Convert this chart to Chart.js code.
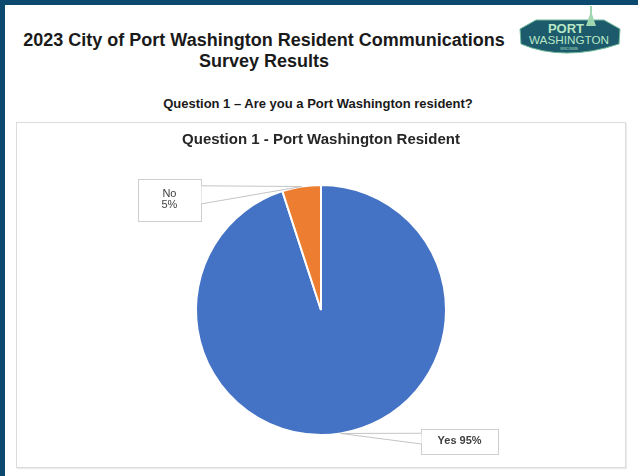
<!DOCTYPE html>
<html>
<head>
<meta charset="utf-8">
<script src="https://cdn.jsdelivr.net/npm/chart.js@4"></script>
<style>
  html, body { margin: 0; padding: 0; }
  body { width: 638px; height: 476px; position: relative; overflow: hidden; background: #fff; font-family: Arial, "Liberation Sans", sans-serif; }
  .edge-top { position: absolute; left: 0; top: 0; width: 638px; height: 5px; background: #0b4a6e; }
  .edge-left { position: absolute; left: 0; top: 0; width: 5px; height: 476px; background: #0b4a6e; }
  .title { position: absolute; left: 14px; top: 30px; width: 500px; text-align: center; font-weight: bold; font-size: 18px; line-height: 21px; color: #1a1a1a; }
  .subtitle { position: absolute; left: 0; top: 96px; width: 636px; text-align: center; font-weight: bold; font-size: 13px; color: #1a1a1a; }
  .box { position: absolute; left: 16px; top: 122px; width: 608px; height: 344px; border: 1px solid #dcdcdc; box-shadow: 1px 1px 1px #ececec; }
  #chart { display: block; }
  .logo { position: absolute; left: 516px; top: 4px; }
</style>
</head>
<body>
<div class="edge-top"></div>
<div class="edge-left"></div>

<div class="title">2023 City of Port Washington Resident Communications<br>Survey Results</div>

<svg class="logo" width="110" height="54" viewBox="0 0 110 54">
  <path d="M20 16 L88 16 L104 25 L103 40 Q76 49 51 49 Q26 49 5 40 L4 25 Z" fill="#1d5a6c" stroke="#6fb89a" stroke-width="1"/>
  <path d="M74 2 L76 2 L76 10 L80 22 L70 22 L74 10 Z" fill="#9fd8b0"/>
  <text x="50" y="29" text-anchor="middle" font-family="Arial" font-weight="bold" font-size="13" fill="#b8e8c4">PORT</text>
  <text x="53" y="40" text-anchor="middle" font-family="Arial" font-size="11" fill="#b8e8c4" textLength="80" lengthAdjust="spacingAndGlyphs">WASHINGTON</text>
  <text x="53" y="46" text-anchor="middle" font-family="Arial" font-size="3" fill="#b8e8c4">WISCONSIN</text>
</svg>

<div class="subtitle">Question 1 – Are you a Port Washington resident?</div>

<div class="box"><canvas id="chart" width="608" height="344"></canvas></div>

<script>
// survey answers
var categories = ['Yes', 'No']
var percentages = [95, 5]
var sliceColors = ['#4472C4', '#ED7D31']

// callout text per slice and where the box sits relative to the slice edge
var calloutLines = [['Yes 95%'], ['No', '5%']]
var calloutBold = [true, false]
var calloutSize = [[77, 25], [63, 42]]
var calloutShift = [[119, 8], [-132, 13]]

const calloutPlugin = {
  id: 'callouts',
  afterDatasetsDraw(chart) {
    const ctx = chart.ctx
    const arcs = chart.getDatasetMeta(0).data
    arcs.forEach((arc, i) => {
      const mid = (arc.startAngle + arc.endAngle) / 2
      const ax = arc.x + Math.cos(mid) * arc.outerRadius
      const ay = arc.y + Math.sin(mid) * arc.outerRadius
      const w = calloutSize[i][0], h = calloutSize[i][1]
      const cx = ax + calloutShift[i][0], cy = ay + calloutShift[i][1]
      const left = Math.round(cx - w / 2) + 0.5, top = Math.round(cy - h / 2) + 0.5
      // edge of box facing the slice
      const ex = cx > ax ? left : left + w
      const y1 = top + h * 0.15, y2 = top + h * 0.58

      ctx.save()
      ctx.fillStyle = '#ffffff'
      ctx.strokeStyle = '#cfcfcf'
      ctx.lineWidth = 1
      ctx.fillRect(left, top, w, h)
      ctx.strokeRect(left, top, w, h)

      ctx.beginPath()
      ctx.moveTo(ex, y1)
      ctx.lineTo(ax, ay)
      ctx.lineTo(ex, y2)
      ctx.closePath()
      ctx.fill()
      ctx.strokeStyle = '#c4c4c4'
      ctx.beginPath()
      ctx.moveTo(ex, y1)
      ctx.lineTo(ax, ay)
      ctx.lineTo(ex, y2)
      ctx.stroke()

      ctx.fillStyle = '#404040'
      ctx.font = (calloutBold[i] ? 'bold ' : '') + '11px Arial, "Liberation Sans", sans-serif'
      ctx.textAlign = 'center'
      ctx.textBaseline = 'middle'
      const lines = calloutLines[i]
      const lh = 11
      lines.forEach((ln, k) => {
        ctx.fillText(ln, cx, cy + (k - (lines.length - 1) / 2) * lh)
      })
      ctx.restore()
    })
  }
}

new Chart(document.getElementById('chart'), {
  type: 'pie',
  data: {
    labels: categories,
    datasets: [{
      data: percentages,
      backgroundColor: sliceColors,
      borderColor: '#ffffff',
      borderWidth: 2,
      hoverOffset: 0
    }]
  },
  options: {
    responsive: false,
    animation: false,
    radius: 125,
    layout: { padding: { top: 0, bottom: 32, left: 0, right: 0 } },
    plugins: {
      legend: { display: false },
      tooltip: { enabled: false },
      title: {
        display: true,
        text: 'Question 1 - Port Washington Resident',
        color: '#262626',
        font: { family: 'Arial, "Liberation Sans", sans-serif', size: 15, weight: 'bold' },
        padding: { top: 8, bottom: 36 }
      }
    }
  },
  plugins: [calloutPlugin]
})
</script>
</body>
</html>
